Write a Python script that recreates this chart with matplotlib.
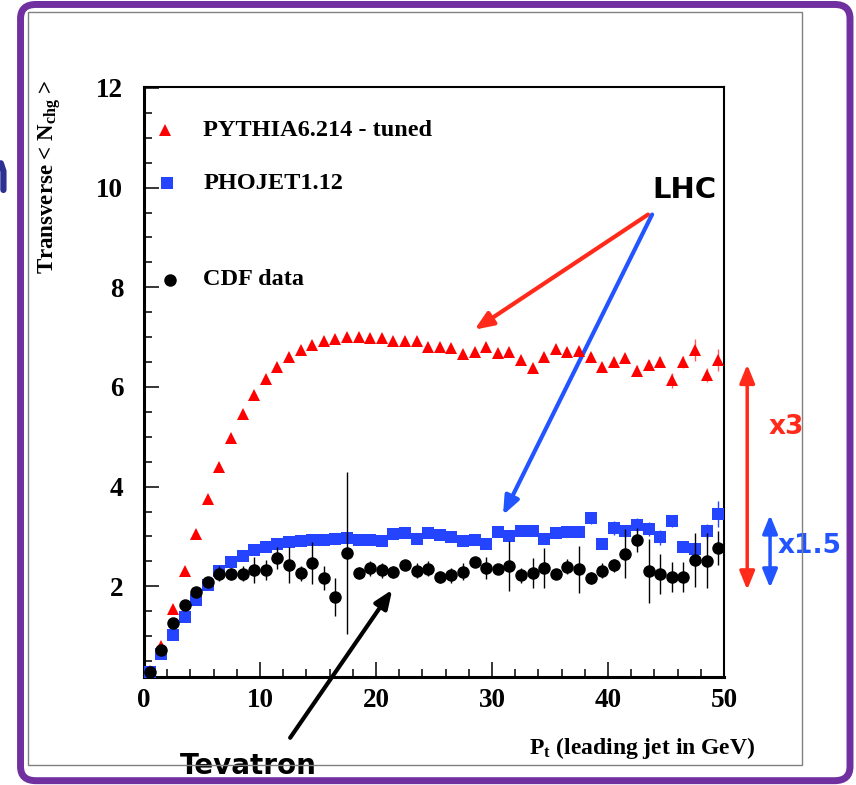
import numpy as np
import matplotlib
matplotlib.use('Agg')
import matplotlib.pyplot as plt
from matplotlib.patches import FancyBboxPatch, Rectangle
from matplotlib.lines import Line2D
from matplotlib.ticker import MultipleLocator

plt.rcParams['font.family'] = 'Liberation Serif'
plt.rcParams['font.weight'] = 'bold'
plt.rcParams['mathtext.fontset'] = 'custom'
plt.rcParams['mathtext.rm'] = 'Liberation Serif:bold'
plt.rcParams['mathtext.it'] = 'Liberation Serif:bold'
plt.rcParams['mathtext.bf'] = 'Liberation Serif:bold'

# bin centres, leading jet Pt (GeV)
pt = np.arange(0.5, 50, 1.0)

pythia = [0.30, 0.80, 1.55, 2.30, 3.05, 3.75, 4.40, 4.97, 5.45, 5.83,
          6.16, 6.41, 6.60, 6.75, 6.84, 6.93, 6.96, 7.01, 7.01, 6.99,
          6.98, 6.93, 6.92, 6.92, 6.81, 6.81, 6.78, 6.67, 6.71, 6.80,
          6.68, 6.70, 6.55, 6.38, 6.60, 6.77, 6.70, 6.73, 6.60, 6.41,
          6.51, 6.58, 6.33, 6.44, 6.51, 6.13, 6.50, 6.75, 6.24, 6.55]
pythia_err = [0.03] * 30 + [0.05] * 8 + [0.08, 0.08, 0.08, 0.08,
              0.12, 0.10, 0.10, 0.15, 0.12, 0.22, 0.15, 0.22]

phojet = [0.27, 0.65, 1.02, 1.38, 1.72, 2.03, 2.30, 2.48, 2.60, 2.73,
          2.79, 2.85, 2.89, 2.91, 2.93, 2.93, 2.95, 2.96, 2.93, 2.93,
          2.90, 3.04, 3.06, 2.94, 3.06, 3.03, 2.98, 2.91, 2.93, 2.84,
          3.08, 3.01, 3.10, 3.10, 2.94, 3.06, 3.08, 3.09, 3.37, 2.84,
          3.17, 3.10, 3.23, 3.15, 2.98, 3.31, 2.79, 2.75, 3.10, 3.45]
phojet_err = [0.03] * 30 + [0.05] * 8 + [0.12, 0.10, 0.15, 0.12,
              0.15, 0.15, 0.15, 0.12, 0.10, 0.10, 0.15, 0.27]

cdf = [0.27, 0.73, 1.26, 1.63, 1.89, 2.08, 2.25, 2.24, 2.25, 2.32,
       2.32, 2.57, 2.42, 2.26, 2.46, 2.17, 1.78, 2.67, 2.27, 2.36,
       2.32, 2.29, 2.42, 2.31, 2.35, 2.18, 2.22, 2.29, 2.48, 2.37,
       2.34, 2.40, 2.22, 2.26, 2.37, 2.24, 2.39, 2.34, 2.17, 2.31,
       2.42, 2.65, 2.92, 2.30, 2.25, 2.19, 2.18, 2.52, 2.51, 2.77]
cdf_err = [0.03, 0.05, 0.06, 0.06, 0.08, 0.10, 0.15, 0.12, 0.15, 0.26,
           0.20, 0.22, 0.36, 0.15, 0.42, 0.24, 0.38, 1.62, 0.12, 0.15,
           0.15, 0.12, 0.10, 0.15, 0.15, 0.12, 0.15, 0.17, 0.10, 0.22,
           0.08, 0.50, 0.15, 0.30, 0.40, 0.10, 0.15, 0.47, 0.12, 0.15,
           0.13, 0.49, 0.24, 0.64, 0.40, 0.30, 0.30, 0.54, 0.55, 0.34]

labels = ['PYTHIA6.214 - tuned', 'PHOJET1.12', 'CDF data']

red = '#ff0000'
blue = '#2444ff'
arr_red = '#ff2a1a'
arr_blue = '#2255ff'

fig = plt.figure(figsize=(8.56, 7.85), dpi=100)
fig.patch.set_facecolor('white')

# slide frame
fig.patches.append(Rectangle((0.0327, 0.0255), 0.9043, 0.9592, transform=fig.transFigure,
                             fill=False, ec='#808080', lw=1.0))
fig.patches.append(FancyBboxPatch((0.024, 0.0055), 0.969, 0.9888,
                                  boxstyle='round,pad=0,rounding_size=0.018',
                                  transform=fig.transFigure, fill=False,
                                  ec='#7030a0', lw=5.0))
# leftover glyph stroke from the slide at the left edge
fig.lines.append(Line2D([0.004, 0.004, 0.001], [0.758, 0.782, 0.792],
                        transform=fig.transFigure, color='#2e3192', lw=4.5,
                        solid_capstyle='round'))

ax = fig.add_axes([0.1682, 0.1376, 0.6776, 0.7516])
ax.set_xlim(0, 50)
ax.set_ylim(0.18, 12.02)

ax.errorbar(pt, pythia, yerr=pythia_err, fmt='^', color=red, ms=9, mew=0,
            elinewidth=1, ecolor='#ff6060', capsize=0, zorder=3)
ax.errorbar(pt, phojet, yerr=phojet_err, fmt='s', color=blue, ms=8.5, mew=0,
            elinewidth=1, capsize=0, zorder=4)
ax.errorbar(pt, cdf, yerr=cdf_err, fmt='o', color='black', ms=9, mew=0,
            elinewidth=1, capsize=0, zorder=5)

# legend drawn ROOT-style
ax.plot([0.036], [0.927], '^', color=red, ms=9, mew=0, transform=ax.transAxes)
ax.plot([0.040], [0.837], 's', color=blue, ms=8.5, mew=0, transform=ax.transAxes)
ax.plot([0.045], [0.673], 'o', color='black', ms=9, mew=0, transform=ax.transAxes)
for yy, lab in zip([0.927, 0.837, 0.673], labels):
    ax.text(0.102, yy, lab, transform=ax.transAxes, fontsize=17.5, va='center', ha='left')

ax.xaxis.set_major_locator(MultipleLocator(10))
ax.xaxis.set_minor_locator(MultipleLocator(2))
ax.yaxis.set_major_locator(MultipleLocator(2))
ax.yaxis.set_minor_locator(MultipleLocator(0.5))
ax.tick_params(which='both', direction='in', top=False, right=False, width=1.1)
ax.tick_params(which='major', length=11)
ax.tick_params(which='minor', length=5.5)
ax.tick_params(axis='y', which='major', pad=15, labelsize=19.5)
ax.tick_params(axis='x', which='major', pad=8, labelsize=19.5)
for s in ['left', 'bottom']:
    ax.spines[s].set_linewidth(2.2)
for s in ['top', 'right']:
    ax.spines[s].set_linewidth(1.5)

fig.text(50 / 856, 1 - 80 / 785, r'Transverse < N$_{\rm chg}$ >', rotation=90,
         ha='center', va='top', fontsize=16.5)
fig.text(755 / 856, 1 - 748 / 785, r'P$_{\rm t}$ (leading jet in GeV)',
         ha='right', va='center', fontsize=17)

# annotations
def arrow(tail, tip, color, style='-|>,head_length=1.1,head_width=0.45', lw=3):
    ax.annotate('', xy=tip, xytext=tail, annotation_clip=False,
                arrowprops=dict(arrowstyle=style, color=color, lw=lw,
                                shrinkA=0, shrinkB=0))

arrow((43.45, 9.46), (28.5, 7.15), arr_red)
arrow((43.8, 9.46), (30.95, 3.43), arr_blue)
arrow((12.6, -1.04), (21.4, 1.93), 'black')
arrow((52.0, 1.93), (52.0, 6.45), arr_red, style='<|-|>,head_length=1.1,head_width=0.45', lw=2.5)
arrow((53.97, 1.97), (53.97, 3.43), arr_blue, style='<|-|>,head_length=1.1,head_width=0.45', lw=2.5)

ax.text(46.6, 9.96, 'LHC', family='DejaVu Sans', fontweight='bold', fontsize=21,
        ha='center', va='center', clip_on=False)
ax.text(9.0, -1.6, 'Tevatron', family='DejaVu Sans', fontweight='bold', fontsize=20,
        ha='center', va='center', clip_on=False)
ax.text(55.4, 5.2, 'x3', family='DejaVu Sans', fontweight='bold', fontsize=19,
        color=arr_red, ha='center', va='center', clip_on=False)
ax.text(57.4, 2.8, 'x1.5', family='DejaVu Sans', fontsize=19,
        color=arr_blue, ha='center', va='center', clip_on=False)

fig.savefig('out.png', dpi=100)
